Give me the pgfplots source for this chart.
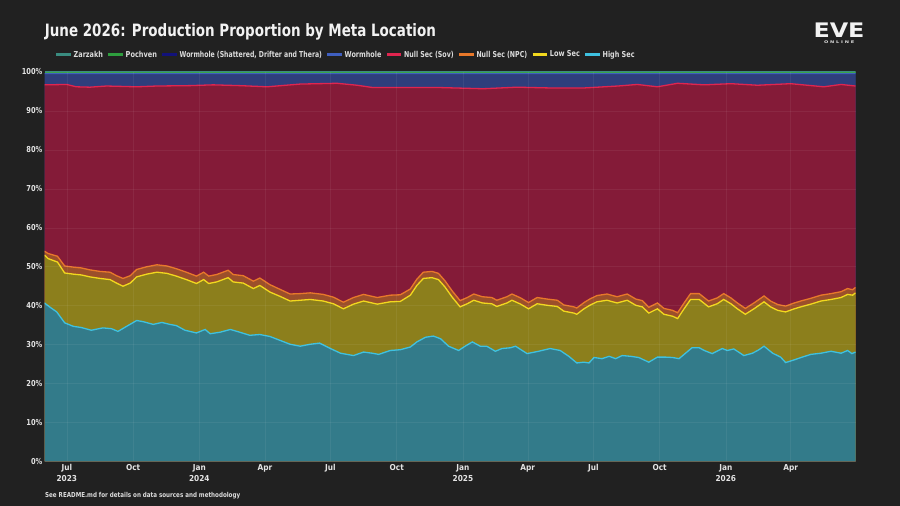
\documentclass[border=0pt]{standalone}
\usepackage{graphicx}
\usepackage{fontspec}
\setmainfont{DejaVu Sans Condensed}[BoldFont={DejaVu Sans Condensed Bold}]
\usepackage{pgfplots}
\usepackage{pgfplotstable}
\pgfplotsset{compat=1.18}

\definecolor{bgcol}{HTML}{212121}
\definecolor{titlecol}{HTML}{F2F2F2}
\definecolor{tickcol}{HTML}{E4E4E4}
\definecolor{legcol}{HTML}{DCDCDC}
\definecolor{hsfill}{HTML}{337B8A}
\definecolor{hsline}{HTML}{3EC1E0}
\definecolor{lsfill}{HTML}{8C7F1C}
\definecolor{lsline}{HTML}{F2D81E}
\definecolor{npcfill}{HTML}{9C4F2A}
\definecolor{npcline}{HTML}{E8782A}
\definecolor{sovfill}{HTML}{841B38}
\definecolor{sovline}{HTML}{E0254F}
\definecolor{whfill}{HTML}{2E3E7C}
\definecolor{whline}{HTML}{3F5FC0}
\definecolor{whsfill}{HTML}{1A1A55}
\definecolor{whsline}{HTML}{12127A}
\definecolor{pofill}{HTML}{2A6A30}
\definecolor{poline}{HTML}{2E9E3E}
\definecolor{zafill}{HTML}{2F6B63}
\definecolor{zaline}{HTML}{3A8C80}

\newsavebox\fitbox
\newcommand\fitw[2]{\sbox\fitbox{#2}\pgfmathsetmacro\fitr{#1/\the\wd\fitbox}\scalebox{\fitr}[1]{\usebox\fitbox}}
\newcommand\yl[1]{\scalebox{0.9}[1]{#1\%}}

% cumulative tops of each band (percent), x = days since 1 Jul 2023
\pgfplotstableread{
x y
-31 40.7
-24 39.7
-14 38.4
-3 35.6
9 34.7
20 34.4
34 33.7
50 34.3
62 34.1
71 33.4
83 34.7
97 36.2
106 35.9
120 35.2
132 35.7
143 35.2
152 34.9
164 33.7
180 33.0
192 33.9
199 32.8
213 33.2
227 33.9
240 33.2
254 32.4
268 32.6
282 32.1
296 31.1
310 30.1
324 29.6
338 30.1
351 30.4
366 29.0
380 27.8
398 27.2
412 28.1
424 27.8
433 27.5
449 28.5
463 28.7
477 29.4
486 30.7
498 31.9
509 32.2
519 31.5
530 29.6
544 28.5
553 29.6
563 30.7
574 29.6
583 29.6
595 28.3
604 29.0
616 29.2
623 29.6
639 27.7
655 28.3
671 29.0
685 28.5
697 27.0
708 25.3
718 25.5
725 25.3
732 26.7
743 26.4
753 27.0
762 26.4
771 27.2
783 27.0
794 26.7
808 25.5
820 26.8
831 26.8
841 26.7
850 26.4
859 27.8
868 29.2
878 29.2
885 28.5
896 27.7
910 29.0
917 28.5
926 28.9
940 27.2
952 27.8
961 28.7
968 29.6
980 27.8
991 26.8
998 25.4
1010 26.1
1021 26.8
1033 27.5
1047 27.8
1061 28.3
1075 27.8
1084 28.5
1090 27.7
1095 28.1
}\hs

\pgfplotstableread{
x y
-31 53.0
-26 52.1
-13 51.2
-3 48.4
9 48.1
20 47.9
32 47.4
46 47.0
60 46.7
69 45.8
78 45.0
88 45.8
97 47.4
111 48.1
125 48.6
139 48.3
152 47.6
166 46.7
180 45.7
190 46.7
197 45.7
208 46.1
224 47.2
231 46.1
245 45.8
259 44.4
268 45.2
282 43.5
296 42.4
310 41.2
324 41.4
338 41.6
356 41.2
370 40.5
384 39.2
398 40.4
412 41.2
431 40.4
449 41.0
463 41.1
477 42.7
486 45.2
495 47.0
507 47.2
516 46.7
525 44.8
535 42.2
546 39.7
556 40.5
565 41.4
577 40.7
590 40.5
597 39.8
611 40.7
618 41.4
630 40.4
641 39.2
653 40.5
667 40.1
681 39.8
690 38.6
704 38.1
708 37.8
718 39.2
726 40.1
736 41.0
750 41.4
764 40.7
778 41.4
790 40.1
799 39.7
808 38.1
820 39.2
829 37.8
841 37.3
848 36.7
857 39.2
866 41.6
878 41.6
891 39.7
903 40.5
912 41.6
922 40.5
931 39.2
942 37.8
954 39.2
968 41.0
977 39.7
987 38.8
998 38.4
1010 39.2
1019 39.7
1033 40.4
1047 41.2
1061 41.6
1075 42.1
1084 42.9
1091 42.7
1095 43.3
}\ls

\pgfplotstableread{
x y
-31 54.0
-26 53.4
-13 52.7
-3 50.2
9 49.9
20 49.7
32 49.2
46 48.8
60 48.6
69 47.7
78 47.0
88 47.7
97 49.3
111 50.0
125 50.5
139 50.2
152 49.5
166 48.6
180 47.6
190 48.6
197 47.6
208 48.0
224 49.1
231 48.0
245 47.7
259 46.3
268 47.1
282 45.4
296 44.2
310 43.0
324 43.1
338 43.3
356 42.9
370 42.2
384 40.9
398 42.1
412 42.9
431 42.1
449 42.7
463 42.8
477 44.3
486 46.8
495 48.6
507 48.8
516 48.3
525 46.4
535 43.8
546 41.3
556 42.1
565 43.0
577 42.3
590 42.1
597 41.4
611 42.3
618 43.0
630 42.0
641 40.8
653 42.1
667 41.7
681 41.4
690 40.2
704 39.7
708 39.4
718 40.8
726 41.7
736 42.6
750 43.0
764 42.3
778 43.0
790 41.7
799 41.3
808 39.6
820 40.7
829 39.3
841 38.8
848 38.2
857 40.7
866 43.1
878 43.1
891 41.2
903 42.0
912 43.1
922 42.0
931 40.7
942 39.3
954 40.7
968 42.5
977 41.2
987 40.3
998 39.9
1010 40.7
1019 41.2
1033 41.9
1047 42.7
1061 43.1
1075 43.6
1084 44.4
1091 44.1
1095 44.7
}\npc

\pgfplotstableread{
x y
-31 96.7
0 96.8
13 96.2
32 96.1
55 96.4
97 96.2
125 96.4
171 96.5
203 96.7
240 96.5
278 96.2
324 96.9
375 97.1
403 96.6
425 96.0
472 96.0
519 96.0
578 95.7
625 96.1
671 95.9
718 95.9
765 96.4
792 96.8
820 96.2
848 97.1
885 96.7
922 97.0
959 96.6
1005 97.0
1051 96.2
1075 96.8
1095 96.4
}\sov

\pgfplotstableread{
x y
-31 99.6
300 99.55
600 99.6
1095 99.6
}\wh

\pgfplotstableread{
x y
-31 99.72
1095 99.72
}\whs

\pgfplotstableread{
x y
-31 99.86
1095 99.86
}\poch

\pgfplotstableread{
x y
-31 100
1095 100
}\zar

\begin{document}
\begin{tikzpicture}
\fill[bgcol] (0pt,0pt) rectangle (900pt,506pt);

\node[anchor=base west, inner sep=0pt, text=titlecol] at (44.7pt,469.3pt)
  {\fontsize{17}{20}\selectfont\bfseries\fitw{391pt}{June 2026: Production Proportion by Meta Location}};

\node[anchor=base west, inner sep=0pt, text=titlecol] at (813.3pt,468.7pt)
  {\resizebox{51pt}{14.6pt}{\bfseries EVE}};
\node[anchor=base west, inner sep=0pt, text=legcol] at (824pt,462.7pt)
  {\resizebox{30pt}{2.7pt}{\bfseries O N L I N E}};

\node[anchor=base west, inner sep=0pt, text=legcol] at (45pt,8.7pt)
  {\fontsize{6.8}{8}\selectfont\bfseries\fitw{195pt}{See README.md for details on data sources and methodology}};

\begin{axis}[
  at={(44.5pt,44.5pt)}, anchor=south west,
  width=811pt, height=389.5pt, scale only axis,
  xmin=-31, xmax=1095, ymin=0, ymax=100,
  axis on top,
  axis line style={draw=none},
  grid=major,
  grid style={white, opacity=0.06, line width=0.5pt},
  major tick length=0pt,
  xtick={0,92,184,275,366,458,550,640,731,823,915,1005},
  xticklabels={{Jul\\2023},Oct,{Jan\\2024},Apr,Jul,Oct,{Jan\\2025},Apr,Jul,Oct,{Jan\\2026},Apr},
  xticklabel style={font=\fontsize{8.2}{11}\selectfont\bfseries, text=tickcol, align=center, anchor=north, inner sep=0pt, yshift=-2.5pt},
  ytick={0,10,...,100},
  yticklabels={\yl{0},\yl{10},\yl{20},\yl{30},\yl{40},\yl{50},\yl{60},\yl{70},\yl{80},\yl{90},\yl{100}},
  yticklabel style={font=\fontsize{8.2}{10}\selectfont\bfseries, text=tickcol, anchor=east, inner sep=0pt, xshift=-2pt},
  legend columns=8,
  legend cell align=left,
  legend image code/.code={\draw[#1, line width=2.7pt] (0pt,0pt) -- (14.5pt,0pt);},
  legend style={at={(axis description cs:0.01295,1.0444)}, anchor=west,
    draw=none, fill=none, inner sep=0pt, outer sep=0pt,
    font=\fontsize{8.2}{10}\selectfont\bfseries, text=legcol,
    nodes={inner sep=0pt},
    /tikz/every odd column/.append style={column sep=1.5pt},
    /tikz/every even column/.append style={column sep=4pt}},
]
% filled bands, painted from the top boundary down
\addplot[fill=zafill, draw=none, forget plot] table {\zar} \closedcycle;
\addplot[fill=pofill, draw=none, forget plot] table {\poch} \closedcycle;
\addplot[fill=whsfill, draw=none, forget plot] table {\whs} \closedcycle;
\addplot[fill=whfill, draw=none, forget plot] table {\wh} \closedcycle;
\addplot[fill=sovfill, draw=none, forget plot] table {\sov} \closedcycle;
\addplot[fill=npcfill, draw=none, forget plot] table {\npc} \closedcycle;
\addplot[fill=lsfill, draw=none, forget plot] table {\ls} \closedcycle;
\addplot[fill=hsfill, draw=none, forget plot] table {\hs} \closedcycle;

% boundary lines
\addplot[color=zaline, line width=1pt] table {\zar};
\addlegendentry{\fitw{29.3pt}{Zarzakh}}
\addplot[color=poline, line width=0.8pt] table {\poch};
\addlegendentry{\fitw{31.3pt}{Pochven}}
\addplot[color=whsline, line width=0.8pt] table {\whs};
\addlegendentry{\fitw{142.3pt}{Wormhole (Shattered, Drifter and Thera)}}
\addplot[color=whline, line width=1pt] table {\wh};
\addlegendentry{\fitw{36.7pt}{Wormhole}}
\addplot[color=sovline, line width=1.3pt] table {\sov};
\addlegendentry{\fitw{49.7pt}{Null Sec (Sov)}}
\addplot[color=npcline, line width=1.3pt] table {\npc};
\addlegendentry{\fitw{50.7pt}{Null Sec (NPC)}}
\addplot[color=lsline, line width=1.3pt] table {\ls};
\addlegendentry{\fitw{30pt}{Low Sec}}
\addplot[color=hsline, line width=1.3pt] table {\hs};
\addlegendentry{\fitw{32pt}{High Sec}}
\end{axis}
\pgfresetboundingbox
\useasboundingbox (0pt,0pt) rectangle (900pt,506pt);
\end{tikzpicture}
\end{document}
